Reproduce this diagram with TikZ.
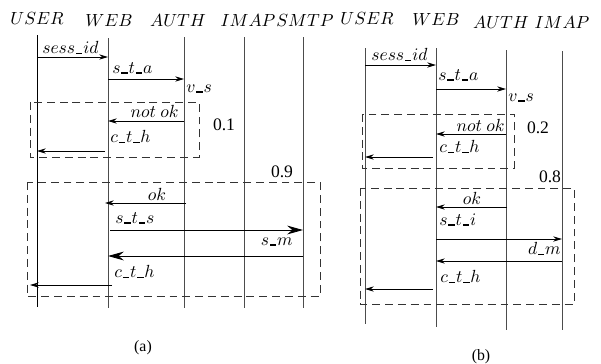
\documentclass[tikz,border=0pt]{standalone}
\usepackage{fontspec}
\setmainfont{Liberation Serif}
\usetikzlibrary{arrows.meta}
% underscore drawn as a short bar on the baseline
\newcommand\ubar{\mbox{\kern.05em\rule[-.2pt]{.36em}{.9pt}\kern.05em}}
\begin{document}
\begin{tikzpicture}[x=0.02cm,y=-0.02cm,
  lifeline/.style={line width=0.55pt,draw=black!70},
  userline/.style={line width=0.55pt,draw=black},
  msg/.style={line width=0.5pt,-{Stealth[length=5pt,width=3pt]}},
  bigmsg/.style={line width=0.5pt,-{Stealth[length=9pt,width=5pt]}},
  head/.style={inner sep=0pt},
  lbl/.style={inner sep=0pt,anchor=west},
  rlbl/.style={inner sep=0pt,anchor=east},
  frag/.style={line width=0.5pt,draw=black!80,dash pattern=on 4.5pt off 2.8pt},
  prob/.style={inner sep=0pt}]
\useasboundingbox (0,0) rectangle (601,363);

% ---------------- sequence (a) ----------------
\node[head] (aU) at (37,18) {$USER$};
\node[head] (aW) at (109,20) {$WEB$};
\node[head] (aA) at (178,20) {$AUTH$};
\node[head] (aI) at (248,20) {$IMAP$};
\node[head] (aS) at (305,20) {$SMTP$};

\coordinate (aUt) at (37,35);  \coordinate (aUb) at (37,307);
\coordinate (aWt) at (108,38); \coordinate (aWb) at (108,308);
\coordinate (aAt) at (184,37); \coordinate (aAb) at (184,308);
\coordinate (aIt) at (244,37); \coordinate (aIb) at (244,308);
\coordinate (aSt) at (303,37); \coordinate (aSb) at (303,308);
\draw[userline] (aUt) -- (aUb);
\draw[lifeline] (aWt) -- (aWb);
\draw[lifeline] (aAt) -- (aAb);
\draw[lifeline] (aIt) -- (aIb);
\draw[lifeline] (aSt) -- (aSb);

\draw[frag] (30,102) rectangle (199,157);
\draw[frag] (27,182) rectangle (320,296);
\node[prob] (ap1) at (224,125) {0.1};
\node[prob] (ap2) at (282,172) {0.9};

\draw[msg] (aUt |- 0,57) -- (aWt |- 0,57);
\node[lbl] (am1) at (42,48) {$sess\ubar id$};
\draw[msg] (aWt |- 0,79) -- (aAt |- 0,79);
\node[lbl] (am2) at (112,68) {$s\ubar t\ubar a$};
\node[lbl] (am3) at (186,89) {$v\ubar s$};
\draw[msg] (aAt |- 0,121) -- (aWt |- 0,121);
\node[rlbl] (am4) at (179,111) {$not\ ok$};
\node[lbl] (am5) at (110,137) {$c\ubar t\ubar h$};
\draw[msg] (105,151) -- (aUt |- 0,151);

\draw[msg] (186,203) -- (105,203);
\node[prob] (am6) at (157,194) {$ok$};
\draw[bigmsg] (110,230) -- (aSt |- 0,230);
\node[lbl] (am7) at (115,218) {$s\ubar t\ubar s$};
\node[rlbl] (am8) at (293,242) {$s\ubar m$};
\draw[bigmsg] (aSt |- 0,256) -- (aWt |- 0,256);
\node[lbl] (am9) at (114,272) {$c\ubar t\ubar h$};
\draw[msg] (112,285) -- (30,285);
\node[prob] (acap) at (143,348) {\small (a)};

% ---------------- sequence (b) ----------------
\node[head] (bU) at (367,18) {$USER$};
\node[head] (bW) at (436,19) {$WEB$};
\node[head] (bA) at (501,22) {$AUTH$};
\node[head] (bI) at (562,22) {$IMAP$};

\coordinate (bUt) at (365,48);  \coordinate (bUb) at (365,324);
\coordinate (bWt) at (436,48);  \coordinate (bWb) at (436,327);
\coordinate (bAt) at (506,50);  \coordinate (bAb) at (506,330);
\coordinate (bIt) at (562,51);  \coordinate (bIb) at (562,330);
\draw[lifeline] (bUt) -- (bUb);
\draw[lifeline] (bWt) -- (bWb);
\draw[lifeline] (bAt) -- (bAb);
\draw[lifeline] (bIt) -- (bIb);

\draw[frag] (362,114) rectangle (514,168);
\draw[frag] (360,188) rectangle (574,304);
\node[prob] (bp1) at (538,128) {0.2};
\node[prob] (bp2) at (550,177) {0.8};

\draw[msg] (bUt |- 0,65) -- (bWt |- 0,65);
\node[lbl] (bm1) at (371,55) {$sess\ubar id$};
\draw[msg] (bWt |- 0,89) -- (bAt |- 0,89);
\node[lbl] (bm2) at (438,75) {$s\ubar t\ubar a$};
\node[lbl] (bm3) at (508,98) {$v\ubar s$};
\draw[msg] (bAt |- 0,134) -- (bWt |- 0,134);
\node[rlbl] (bm4) at (505,125) {$not\ ok$};
\node[lbl] (bm5) at (439,147) {$c\ubar t\ubar h$};
\draw[msg] (433,157) -- (bUt |- 0,157);

\draw[msg] (507,207) -- (bWt |- 0,207);
\node[prob] (bm6) at (472,198) {$ok$};
\node[lbl] (bm7) at (439,220) {$s\ubar t\ubar i$};
\draw[msg] (bWt |- 0,239) -- (bIt |- 0,239);
\node[rlbl] (bm8) at (561,249) {$d\ubar m$};
\draw[msg] (bIt |- 0,261) -- (bWt |- 0,261);
\node[lbl] (bm9) at (440,277) {$c\ubar t\ubar h$};
\draw[msg] (433,289) -- (bUt |- 0,289);
\node[prob] (bcap) at (481,357) {\small (b)};
\end{tikzpicture}
\end{document}
